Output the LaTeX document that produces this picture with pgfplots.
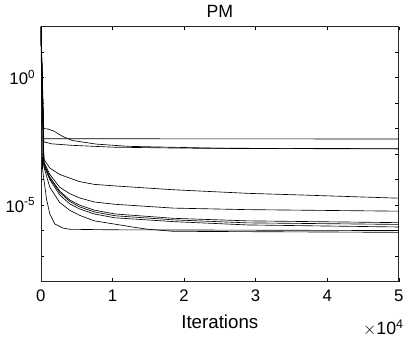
\documentclass[border=0pt]{standalone}
\usepackage{pgfplots}
\pgfplotsset{compat=1.18}
\usepackage{fontspec}
\setmainfont{Liberation Sans}

\begin{document}
\fontsize{17}{20}\selectfont
\begin{tikzpicture}
\begin{axis}[
    scale only axis,
    width=362bp, height=258bp,
    ymode=log,
    xmin=0, xmax=50000,
    ymin=1e-8, ymax=1e2,
    xtick={0,10000,20000,30000,40000,50000},
    xticklabels={0,1,2,3,4,5},
    ytick={1e-8,1e-7,1e-6,1e-5,1e-4,1e-3,1e-2,1e-1,1e0,1e1,1e2},
    yticklabels={,,,10\textsuperscript{-5},,,,,10\textsuperscript{0},,},
    yminorticks=false,
    scaled x ticks=false,
    tick align=inside,
    major tick length=3.5pt,
    tick style={black, line width=0.5pt},
    axis line style={line width=0.6pt, black!85},
    tick label style={font=\fontsize{17}{20}\selectfont},
    xticklabel style={yshift=-3bp},
    /pgf/number format/assume math mode=true,
    title={PM},
    title style={font=\fontsize{18}{21}\selectfont, yshift=-3pt},
    xlabel={Iterations},
    xlabel style={font=\fontsize{19}{22}\selectfont, yshift=-1bp},
    no markers,
    every axis plot post/.append style={black, solid, line width=0.65pt},
    clip mode=individual,
]
% top group
\addplot coordinates {(0,100) (400,3.98e-3) (50000,3.89e-3)};
\addplot coordinates {(0,100) (400,1e-2) (1000,9.55e-3) (1800,7.94e-3) (3038,4.90e-3) (4419,3.39e-3) (7734,2.45e-3) (12291,2.0e-3) (26100,1.66e-3) (50000,1.585e-3)};
\addplot coordinates {(0,100) (400,3.02e-3) (1500,2.51e-3) (4419,2.19e-3) (10000,1.86e-3) (20000,1.70e-3) (50000,1.62e-3)};
% lower group
\addplot coordinates {(0,100) (414,6.31e-4) (1243,2.82e-4) (2624,1.585e-4) (5386,8.32e-5) (7458,6.46e-5) (10359,5.62e-5) (18508,3.98e-5) (28867,2.88e-5) (35770,2.51e-5) (50000,1.86e-5)};
\addplot coordinates {(0,100) (414,5.01e-4) (1243,1.585e-4) (2624,5.01e-5) (4005,2.82e-5) (5386,1.91e-5) (7458,1.32e-5) (10359,1.07e-5) (18508,7.59e-6) (28867,6.61e-6) (50000,5.75e-6)};
\addplot coordinates {(0,100) (414,4.47e-4) (1243,1.26e-4) (2624,3.55e-5) (4005,1.585e-5) (5386,1e-5) (7458,6.31e-6) (10359,4.47e-6) (18508,3.02e-6) (28867,2.40e-6) (50000,2.04e-6)};
\addplot coordinates {(0,100) (414,3.98e-4) (1243,1.12e-4) (2624,3.16e-5) (4005,1.41e-5) (5386,8.51e-6) (7458,5.37e-6) (10359,3.80e-6) (18508,2.63e-6) (28867,2.0e-6) (50000,1.74e-6)};
\addplot coordinates {(0,100) (414,3.55e-4) (1243,1e-4) (2624,2.51e-5) (4005,1.12e-5) (5386,7.08e-6) (7458,4.47e-6) (10359,3.16e-6) (18508,2.24e-6) (28867,1.66e-6) (50000,1.38e-6)};
\addplot coordinates {(0,100) (414,3.16e-4) (1243,5.01e-5) (2624,1.26e-5) (4005,6.31e-6) (5386,3.98e-6) (7458,2.40e-6) (10359,1.78e-6) (13000,1.35e-6) (15000,1.12e-6) (18500,9.33e-7) (50000,8.51e-7)};
\addplot coordinates {(0,100) (235,2.51e-4) (787,1.70e-5) (1243,4.47e-6) (1933,1.82e-6) (3080,1.26e-6) (4005,1.12e-6) (10000,1.07e-6) (50000,1e-6)};
\node[anchor=base east, inner sep=0pt, text depth=4bp, font=\fontsize{18}{21}\selectfont] at ([xshift=5bp, yshift=-54bp]rel axis cs:1,0) {$\times$10\textsuperscript{4}};
\end{axis}
\end{tikzpicture}
\end{document}
